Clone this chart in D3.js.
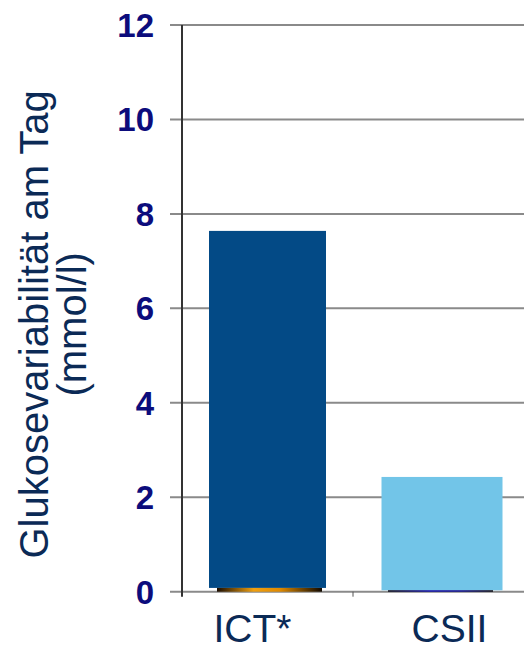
<!DOCTYPE html>
<html><head><meta charset="utf-8">
<script src="https://cdn.jsdelivr.net/npm/d3@7"></script>
<style>body{margin:0;background:#fff}svg{display:block}</style>
</head><body>
<svg id="c" width="524" height="651"></svg>
<script>
const categories = ["ICT*", "CSII"];
const mainValues = [7.64, 2.43];
const baseValues = [0.08, 0.03];
const yTicks = [0, 2, 4, 6, 8, 10, 12];
const yTitle = ["Glukosevariabilität am Tag", "(mmol/l)"];

const W = 524, H = 651;
const m = {top: 25, right: 0, bottom: 59.3, left: 182};
const svg = d3.select("#c");
const x = d3.scaleBand().domain(categories).range([m.left, W]).paddingInner(0).paddingOuter(0);
const y = d3.scaleLinear().domain([0, 12]).range([H - m.bottom, m.top]);

const defs = svg.append("defs");
const g1 = defs.append("linearGradient").attr("id", "og").attr("x1", "0").attr("x2", "1");
[["0%", "#1a0c00"], ["35%", "#f0a010"], ["60%", "#e08a00"], ["100%", "#100800"]].forEach(s =>
  g1.append("stop").attr("offset", s[0]).attr("stop-color", s[1]));
const g2 = defs.append("linearGradient").attr("id", "bg").attr("x1", "0").attr("x2", "1");
[["0%", "#000010"], ["40%", "#0000a8"], ["70%", "#00008a"], ["100%", "#000008"]].forEach(s =>
  g2.append("stop").attr("offset", s[0]).attr("stop-color", s[1]));

// gridlines
svg.append("g").selectAll("line").data(yTicks).join("line")
  .attr("x1", m.left - 12).attr("x2", W)
  .attr("y1", d => y(d)).attr("y2", d => y(d))
  .attr("stroke", "#8a8a8a").attr("stroke-width", 2);

// y tick labels
svg.append("g").selectAll("text").data(yTicks).join("text")
  .attr("x", 154).attr("y", d => y(d)).attr("dy", "0.36em")
  .attr("text-anchor", "end")
  .attr("font-family", "Liberation Sans, Arial, sans-serif")
  .attr("font-weight", "bold").attr("font-size", 33)
  .attr("fill", "#0c0c7c").text(d => d);

// category ticks
const bounds = [m.left, m.left + x.bandwidth(), W];
svg.append("g").selectAll("line").data(bounds.slice(1, 2)).join("line")
  .attr("x1", d => d).attr("x2", d => d)
  .attr("y1", y(0)).attr("y2", y(0) + 5)
  .attr("stroke", "#555").attr("stroke-width", 1);

// main bars
const mainW = 117, baseW = 105;
const mainColors = ["#034a86", "#72c5e8"];
const baseFills = ["url(#og)", "url(#bg)"];
svg.append("g").selectAll("rect").data(categories).join("rect")
  .attr("x", d => x(d) + x.bandwidth() / 2 - mainW / 2 + (d === "CSII" ? 1.5 : 0))
  .attr("width", (d) => d === "CSII" ? 121 : mainW)
  .attr("y", (d, i) => y(mainValues[i]))
  .attr("height", (d, i) => y(baseValues[i]) - y(mainValues[i]))
  .attr("fill", (d, i) => mainColors[i]);

// base strips
svg.append("g").selectAll("rect").data(categories).join("rect")
  .attr("x", d => x(d) + x.bandwidth() / 2 - baseW / 2 + 2)
  .attr("width", baseW)
  .attr("y", (d, i) => y(baseValues[i]))
  .attr("height", (d, i) => y(0) - y(baseValues[i]))
  .attr("fill", (d, i) => baseFills[i]);

// y axis line
svg.append("line").attr("x1", m.left).attr("x2", m.left)
  .attr("y1", y(12)).attr("y2", y(0) + 5)
  .attr("stroke", "#333").attr("stroke-width", 2);

// category labels
const labelDx = [-15, 11];
svg.append("g").selectAll("text").data(categories).join("text")
  .attr("x", (d, i) => x(d) + x.bandwidth() / 2 + labelDx[i])
  .attr("y", 642).attr("text-anchor", "middle")
  .attr("font-family", "Liberation Sans, Arial, sans-serif")
  .attr("font-size", 39).attr("fill", "#0b2a56").text(d => d);

// y title
const t = svg.append("text")
  .attr("transform", `translate(48,${(y(0) + y(12)) / 2 + 16}) rotate(-90)`)
  .attr("text-anchor", "middle")
  .attr("font-family", "Liberation Sans, Arial, sans-serif")
  .attr("font-size", 40).attr("fill", "#0b2a56");
t.selectAll("tspan").data(yTitle).join("tspan")
  .attr("x", 0).attr("dy", (d, i) => i === 0 ? 0 : 38).text(d => d);
</script>
</body></html>
